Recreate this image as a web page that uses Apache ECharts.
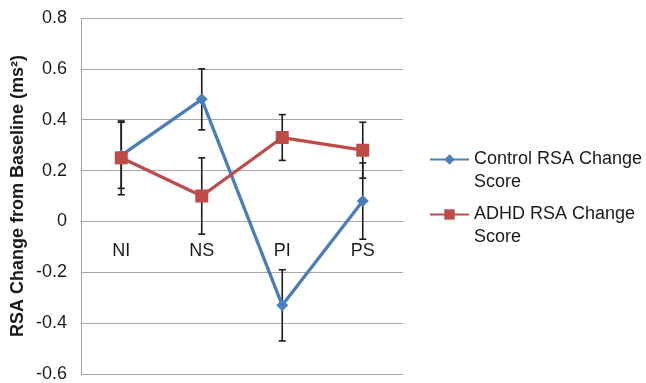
<!DOCTYPE html>
<html><head><meta charset="utf-8">
<script src="https://cdn.jsdelivr.net/npm/echarts@6/dist/echarts.min.js"></script>
<style>html,body{margin:0;padding:0;background:#fff}#c{width:646px;height:383px}</style>
</head><body><div id="c"></div>
<script>
var categories = ['NI', 'NS', 'PI', 'PS'];
var controlValues = [0.26, 0.48, -0.33, 0.08];
var controlErrors = [0.13, 0.12, 0.14, 0.15];
var adhdValues = [0.25, 0.10, 0.33, 0.28];
var adhdErrors = [0.145, 0.15, 0.09, 0.11];
var seriesNames = ['Control RSA Change Score', 'ADHD RSA Change Score'];
var legendLabels = {'Control RSA Change Score': 'Control RSA Change\nScore', 'ADHD RSA Change Score': 'ADHD RSA Change\nScore'};

var FONT = '"Liberation Sans", Arial, sans-serif';
var GRID_TOP = 18, GRID_BOTTOM = 9, H = 383, Y_MIN = -0.6, Y_MAX = 0.8;
var zeroOffset = -(H - GRID_TOP - GRID_BOTTOM) * (0 - Y_MIN) / (Y_MAX - Y_MIN);
function errData(vals, errs) {
  return vals.map(function (v, i) { return [i, v - errs[i], v + errs[i]]; });
}
function errSeries(vals, errs) {
  return {
    type: 'custom', z: 1, silent: true,
    data: errData(vals, errs),
    encode: {x: 0, y: [1, 2]},
    renderItem: function (params, api) {
      var lo = api.coord([api.value(0), api.value(1)]);
      var hi = api.coord([api.value(0), api.value(2)]);
      var w = 3.5;
      var st = {stroke: '#1a1a1a', lineWidth: 1.6};
      return {type: 'group', children: [
        {type: 'line', shape: {x1: lo[0], y1: lo[1], x2: hi[0], y2: hi[1]}, style: st},
        {type: 'line', shape: {x1: lo[0] - w, y1: lo[1], x2: lo[0] + w, y2: lo[1]}, style: st},
        {type: 'line', shape: {x1: hi[0] - w, y1: hi[1], x2: hi[0] + w, y2: hi[1]}, style: st}
      ]};
    }
  };
}
function legendFor(name, top) {
  return {
    orient: 'vertical', left: 424, top: top,
    itemWidth: 39, itemHeight: 13,
    data: [name],
    formatter: function (n) { return ' \n' + legendLabels[n]; },
    textStyle: {fontSize: 18, fontFamily: FONT, color: '#1a1a1a', lineHeight: 23}
  };
}
var chart = echarts.init(document.getElementById('c'), null, {renderer: 'canvas'});
chart.setOption({
  animation: false,
  grid: {left: 81, right: 243, top: GRID_TOP, bottom: GRID_BOTTOM, containLabel: false, outerBoundsMode: 'none'},
  xAxis: {
    type: 'category', data: categories, boundaryGap: true, position: 'bottom', offset: zeroOffset,
    axisLine: {show: true, onZero: false, lineStyle: {color: '#a6a6a6', width: 1}},
    axisTick: {show: false},
    axisLabel: {color: '#1a1a1a', fontSize: 18, fontFamily: FONT, margin: 21},
    splitLine: {show: false}
  },
  yAxis: {
    type: 'value', min: Y_MIN, max: Y_MAX, interval: 0.2,
    name: 'RSA Change from Baseline (ms²)', nameLocation: 'middle', nameGap: 54, nameRotate: 90,
    nameTextStyle: {fontSize: 18, fontWeight: 'bold', color: '#1a1a1a', fontFamily: FONT},
    axisLine: {show: true, lineStyle: {color: '#a6a6a6', width: 1}},
    axisTick: {show: false},
    axisLabel: {color: '#1a1a1a', fontSize: 18, fontFamily: FONT, margin: 14,
      formatter: function (v) { return Math.abs(v) < 1e-9 ? '0' : v.toFixed(1); }},
    splitLine: {show: true, lineStyle: {color: '#a6a6a6', width: 1}}
  },
  legend: [legendFor(seriesNames[0], 120), legendFor(seriesNames[1], 175)],
  series: [
    errSeries(controlValues, controlErrors),
    errSeries(adhdValues, adhdErrors),
    {name: seriesNames[0], type: 'line', z: 3, data: controlValues, symbol: 'diamond', symbolSize: 12,
      lineStyle: {color: '#4a7ebb', width: 3.3}, itemStyle: {color: '#4a7ebb'}},
    {name: seriesNames[1], type: 'line', z: 4, data: adhdValues, symbol: 'rect', symbolSize: 13,
      lineStyle: {color: '#be4b48', width: 3.3}, itemStyle: {color: '#be4b48'}}
  ]
});
</script></body></html>
